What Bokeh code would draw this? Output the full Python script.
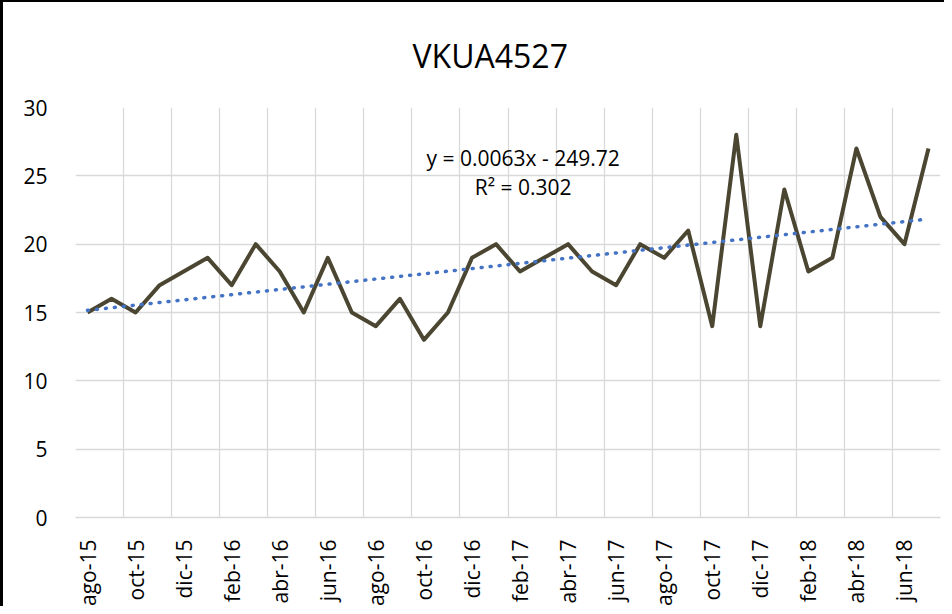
import numpy as np
from bokeh.plotting import figure
from bokeh.models import FixedTicker, Label, Range1d
from bokeh.embed import file_html
from bokeh.resources import INLINE

months = ["ago-15", "sep-15", "oct-15", "nov-15", "dic-15", "ene-16", "feb-16", "mar-16",
          "abr-16", "may-16", "jun-16", "jul-16", "ago-16", "sep-16", "oct-16", "nov-16",
          "dic-16", "ene-17", "feb-17", "mar-17", "abr-17", "may-17", "jun-17", "jul-17",
          "ago-17", "sep-17", "oct-17", "nov-17", "dic-17", "ene-18", "feb-18", "mar-18",
          "abr-18", "may-18", "jun-18", "jul-18"]
values = [15, 16, 15, 17, 18, 19, 17, 20, 18, 15, 19, 15,
          14, 16, 13, 15, 19, 20, 18, 19, 20, 18, 17, 20,
          19, 21, 14, 28, 14, 24, 18, 19, 27, 22, 20, 27]
y_ticks = [0, 5, 10, 15, 20, 25, 30]
title_text = "VKUA4527"
eq_text = "y = 0.0063x - 249.72"
r2_text = "R² = 0.302"

x = list(range(len(months)))
slope, intercept = np.polyfit(x, values, 1)
trend = [slope * xi + intercept for xi in x]

p = figure(width=944, height=606, output_backend="svg", toolbar_location=None,
           x_range=Range1d(-0.5, len(months) - 0.5), y_range=Range1d(0, 30),
           min_border_left=72, min_border_right=7, min_border_top=105, min_border_bottom=89,
           styles={"border-left": "3px solid black", "border-top": "2px solid black",
                   "box-sizing": "border-box"})

p.title.text = title_text
p.title.align = "left"
p.title.offset = 337
p.title.standoff = 58
p.title.vertical_align = "top"
p.title.text_font = "Open Sans"
p.title.text_font_size = "32px"
p.title.text_font_style = "normal"
p.title.text_color = "black"

p.outline_line_color = None

# grids
p.xgrid.ticker = FixedTicker(ticks=[i - 0.5 for i in range(0, len(months) + 1, 2)])
p.ygrid.ticker = FixedTicker(ticks=y_ticks)
for g in (p.xgrid, p.ygrid):
    g.grid_line_color = "#d9d9d9"
    g.grid_line_width = 1.3

# x axis
p.xaxis.ticker = FixedTicker(ticks=list(range(0, len(months), 2)))
p.xaxis.major_label_overrides = {i: months[i] for i in range(0, len(months), 2)}
p.xaxis.major_label_orientation = np.pi / 2
p.xaxis.major_label_text_font = "Open Sans"
p.xaxis.major_label_text_font_size = "21px"
p.xaxis.major_label_text_color = "black"
p.xaxis.major_label_standoff = 16
p.xaxis.axis_line_color = "#d9d9d9"
p.xaxis.axis_line_width = 1.3
p.xaxis.major_tick_line_color = None
p.xaxis.minor_tick_line_color = None

# y axis
p.yaxis.ticker = FixedTicker(ticks=y_ticks)
p.yaxis.major_label_text_font = "Open Sans"
p.yaxis.major_label_text_font_size = "21px"
p.yaxis.major_label_text_color = "black"
p.yaxis.major_label_standoff = 22
p.yaxis.axis_line_color = None
p.yaxis.major_tick_line_color = None
p.yaxis.minor_tick_line_color = None

p.line(x, values, line_color="#4b4631", line_width=4, line_join="round")
p.line(x, trend, line_color="#4472c4", line_width=3.5, line_dash="1 8", line_cap="round")

p.add_layout(Label(x=18.13, y=26.34, text=eq_text, text_align="center", text_baseline="middle",
                   text_font="Open Sans", text_font_size="21px", text_color="black"))
p.add_layout(Label(x=18.13, y=24.15, text=r2_text, text_align="center", text_baseline="middle",
                   text_font="Open Sans", text_font_size="21px", text_color="black"))

open("out.html", "w").write(file_html(p, INLINE))
